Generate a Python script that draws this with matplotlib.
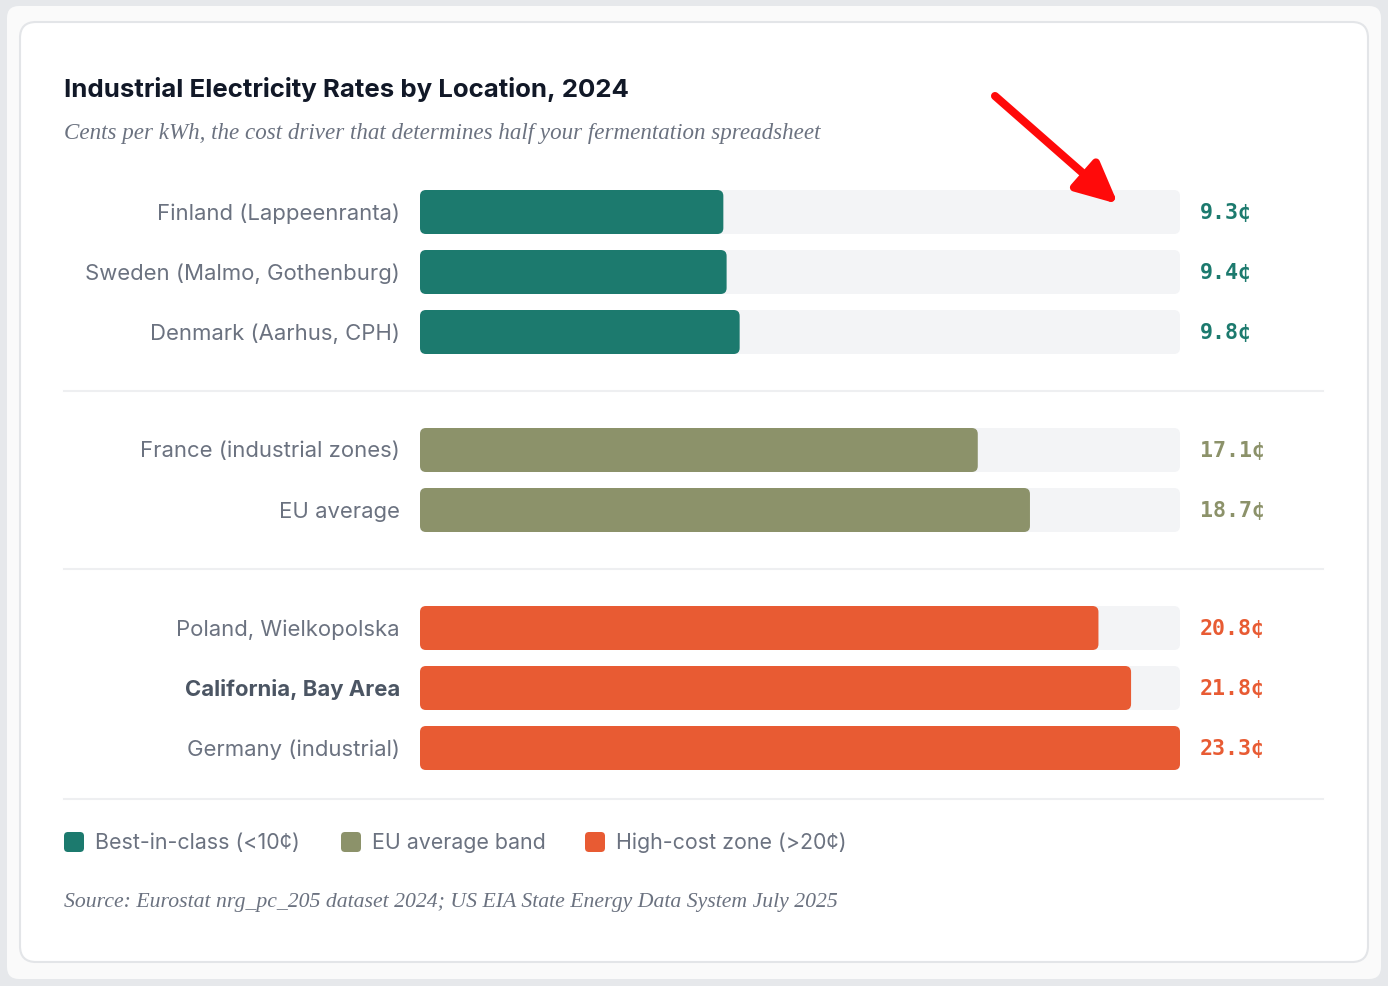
import matplotlib
matplotlib.use("Agg")
import matplotlib.pyplot as plt
from matplotlib.patches import FancyBboxPatch
from matplotlib import transforms

# ---------------- data ----------------
groups = ["best", "eu", "high"]
group_names = ["Best-in-class (<10¢)", "EU average band", "High-cost zone (>20¢)"]
group_colors = ["#1c7a6e", "#8c926a", "#e85b33"]

locations = ["Finland (Lappeenranta)", "Sweden (Malmo, Gothenburg)", "Denmark (Aarhus, CPH)",
             "France (industrial zones)", "EU average",
             "Poland, Wielkopolska", "California, Bay Area", "Germany (industrial)"]
rates = [9.3, 9.4, 9.8, 17.1, 18.7, 20.8, 21.8, 23.3]
loc_group = [0, 0, 0, 1, 1, 2, 2, 2]
highlight = ["California, Bay Area"]

title = "Industrial Electricity Rates by Location, 2024"
subtitle = "Cents per kWh, the cost driver that determines half your fermentation spreadsheet"
source = "Source: Eurostat nrg_pc_205 dataset 2024; US EIA State Energy Data System July 2025"

# ---------------- figure ----------------
W, H = 1388, 986
fig = plt.figure(figsize=(W / 100, H / 100), dpi=100)
fig.patch.set_facecolor("#e6e8eb")

def fx(px):
    return px / W

def fy(py):
    return 1 - py / H

def fig_box(x0, y0, x1, y1, r, fc, ec="none", lw=0, z=0):
    p = FancyBboxPatch((fx(x0), fy(y1)), fx(x1) - fx(x0), fy(y0) - fy(y1),
                       boxstyle=f"round,pad=0,rounding_size={r / W}",
                       mutation_aspect=W / H, transform=fig.transFigure,
                       facecolor=fc, edgecolor=ec, linewidth=lw, zorder=z)
    fig.add_artist(p)

fig_box(7, 6, 1381, 979, 12, "#fafafa", z=0)
fig_box(20, 22, 1368, 962, 16, "white", ec="#e3e5e8", lw=1.5, z=1)

SANS = ["Inter", "DejaVu Sans"]
SERIF = ["Liberation Serif", "DejaVu Serif"]
MONO = ["DejaVu Sans Mono"]
GRAY = "#6b7280"

fig.text(fx(64), fy(89), title, fontsize=18.6, fontweight="bold", color="#111827",
         family=SANS, va="center", ha="left", zorder=5)
fig.text(fx(64), fy(134), subtitle, fontsize=16.6, style="italic", color=GRAY,
         family=SERIF, va="center", ha="left", zorder=5)
fig.text(fx(64), fy(902), source, fontsize=15.7, style="italic", color=GRAY,
         family=SERIF, va="center", ha="left", zorder=5)

# ---------------- bars axes ----------------
row_px = 60.0
gap_rows = 58.0 / row_px
positions = [i + loc_group[i] * gap_rows for i in range(len(rates))]

ax_top, ax_bot = 160, 800
ax_left, ax_right = 420, 1180
ax = fig.add_axes([fx(ax_left), fy(ax_bot), fx(ax_right) - fx(ax_left), fy(ax_top) - fy(ax_bot)])
ax.set_zorder(4)
ax.patch.set_alpha(0)
vmax = max(rates)
ax.set_xlim(0, vmax)
p_top = (ax_top - 212) / row_px
p_bot = (ax_bot - 212) / row_px
ax.set_ylim(p_bot, p_top)
ax.axis("off")

x_per_px = vmax / (ax_right - ax_left)
y_per_px = 1 / row_px
aspect = y_per_px / x_per_px
bar_h = 44 / row_px
rad = 6 * x_per_px

for loc, v, g, p in zip(locations, rates, loc_group, positions):
    track = FancyBboxPatch((0, p - bar_h / 2), vmax, bar_h,
                           boxstyle=f"round,pad=0,rounding_size={rad}",
                           mutation_aspect=aspect, facecolor="#f3f4f6", edgecolor="none",
                           zorder=1, clip_on=False)
    ax.add_patch(track)
    bar = FancyBboxPatch((0, p - bar_h / 2), v, bar_h,
                         boxstyle=f"round,pad=0,rounding_size={rad}",
                         mutation_aspect=aspect, facecolor=group_colors[g], edgecolor="none",
                         zorder=2, clip_on=False)
    ax.add_patch(bar)
    bold = loc in highlight
    ax.annotate(loc, xy=(0, p), xytext=(-20, -1.5), textcoords="offset pixels",
                ha="right", va="center", fontsize=15.9, family=SANS,
                fontweight="bold" if bold else "normal",
                color="#4b5563" if bold else GRAY, annotation_clip=False)
    ax.annotate(f"{v:.1f}¢", xy=(vmax, p), xytext=(20, -1.5), textcoords="offset pixels",
                ha="left", va="center", fontsize=15.6, family=MONO, fontweight="bold",
                color=group_colors[g], annotation_clip=False)

# dividers between groups and below
blend = transforms.blended_transform_factory(fig.transFigure, ax.transData)
div_y = []
for i in range(1, len(positions)):
    if loc_group[i] != loc_group[i - 1]:
        div_y.append((positions[i] + positions[i - 1]) / 2)
div_y.append(positions[-1] + 51 / row_px)
for y in div_y:
    ax.plot([fx(64), fx(1323)], [y, y], transform=blend, color="#eeeff1", lw=1.5,
            clip_on=False, zorder=0)

# ---------------- legend ----------------
leg_sq = [64, 341, 585]
for xs, name, col in zip(leg_sq, group_names, group_colors):
    fig_box(xs, 832, xs + 20, 852, 4, col, z=5)
    fig.text(fx(xs + 31), fy(843), name, fontsize=15.4, family=SANS, color=GRAY,
             va="center", ha="left", zorder=5)

# ---------------- annotation arrow ----------------
arrow = matplotlib.text.Annotation(
    "", xy=(fx(1118), fy(204)), xytext=(fx(995), fy(96)),
    xycoords="figure fraction", textcoords="figure fraction",
    arrowprops=dict(arrowstyle="-|>,head_length=1.25,head_width=0.6", color="#ff0a0a",
                    lw=5.8, mutation_scale=20, shrinkA=0, shrinkB=0))
arrow.set_zorder(10)
fig.add_artist(arrow)

fig.savefig("out.png", dpi=100, facecolor=fig.get_facecolor())
